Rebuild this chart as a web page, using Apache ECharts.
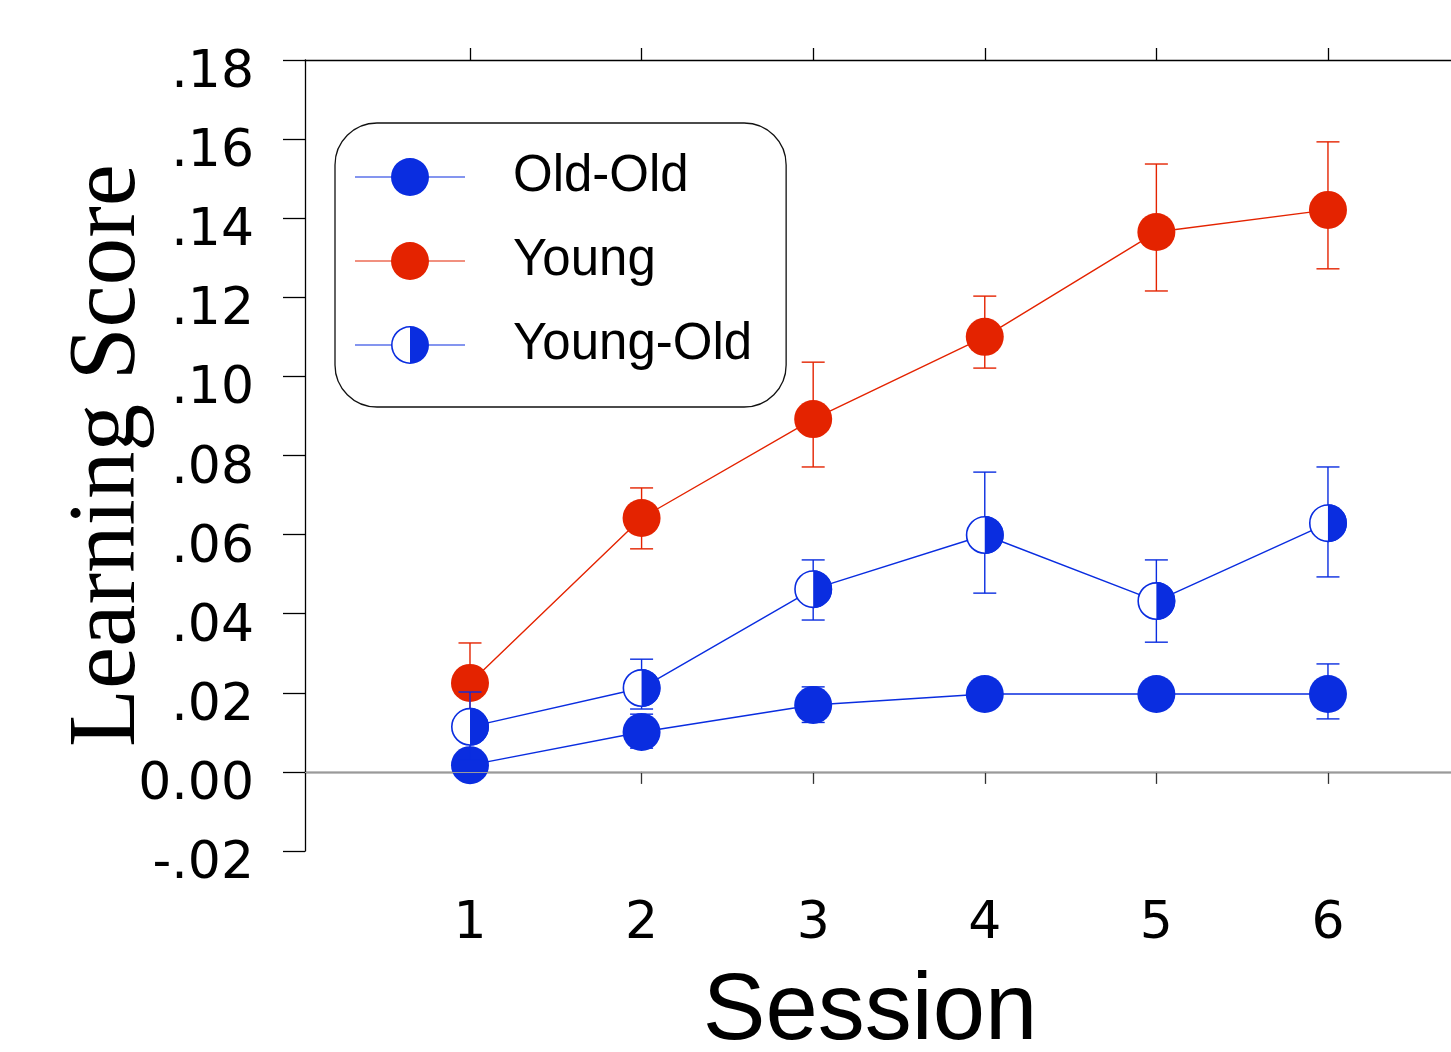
<!DOCTYPE html>
<html><head><meta charset="utf-8">
<script src="https://cdn.jsdelivr.net/npm/echarts@6/dist/echarts.min.js"></script>
<style>html,body{margin:0;padding:0;background:#fff;overflow:hidden}#c{width:1451px;height:1052px}</style>
</head><body><div id="c"></div>
<script>
// ---- data ----
const sessions = [1, 2, 3, 4, 5, 6];
const oldOld      = [0.0017, 0.0101, 0.0169, 0.0197, 0.0197, 0.0197];
const oldOldHigh  = [0.0045, 0.0146, 0.0215, 0.0225, 0.0225, 0.0273];
const oldOldLow   = [-0.0010, 0.0060, 0.0125, 0.0170, 0.0170, 0.0134];
const young       = [0.0225, 0.0642, 0.0892, 0.1100, 0.1365, 0.1421];
const youngHigh   = [0.0326, 0.0718, 0.1036, 0.1203, 0.1537, 0.1593];
const youngLow    = [0.0125, 0.0564, 0.0771, 0.1021, 0.1216, 0.1272];
const youngOld    = [0.0114, 0.0212, 0.0462, 0.0599, 0.0432, 0.0629];
const youngOldHigh= [0.0202, 0.0285, 0.0536, 0.0758, 0.0536, 0.0771];
const youngOldLow = [0.0030, 0.0159, 0.0384, 0.0452, 0.0328, 0.0493];
const yTickLabels = ['-.02', '0.00', '.02', '.04', '.06', '.08', '.10', '.12', '.14', '.16', '.18'];
const seriesNames = ['Old-Old', 'Young', 'Young-Old'];

const BLUE = '#0a2de0';
const RED = '#e42300';
const X_MIN = 0.0385, X_MAX = 6.717;

const iconFull = 'path://M0,18.4L36.5,18.4L36.5,19.6L0,19.6Z M73.5,18.4L110,18.4L110,19.6L73.5,19.6Z M55,0A19,19 0 1 1 55,38A19,19 0 1 1 55,0Z';
const iconHalf = 'path://M0,18.4L36.5,18.4L36.5,19.6L0,19.6Z M73.5,18.4L110,18.4L110,19.6L73.5,19.6Z M55,0A19,19 0 1 1 55,38A19,19 0 1 1 55,0Z M55,1.6A17.4,17.4 0 0 0 55,36.4Z';

function errData(hi, lo) { return sessions.map((s, i) => [s, hi[i], lo[i]]); }
function errRender(color) {
  return function (params, api) {
    const x = api.value(0);
    const top = api.coord([x, api.value(1)]);
    const bot = api.coord([x, api.value(2)]);
    const hw = 11.5;
    const st = { stroke: color, lineWidth: 1.4 };
    return { type: 'group', children: [
      { type: 'line', shape: { x1: top[0], y1: top[1], x2: bot[0], y2: bot[1] }, style: st },
      { type: 'line', shape: { x1: top[0] - hw, y1: top[1], x2: top[0] + hw, y2: top[1] }, style: st },
      { type: 'line', shape: { x1: bot[0] - hw, y1: bot[1], x2: bot[0] + hw, y2: bot[1] }, style: st }
    ]};
  };
}
function pts(v) { return sessions.map((s, i) => [s, v[i]]); }

const chart = echarts.init(document.getElementById('c'), null, { renderer: 'canvas', width: 1451, height: 1052 });
const axisLineStyle = { color: '#000', width: 1.3 };
chart.setOption({
  animation: false,
  backgroundColor: '#fff',
  grid: { left: 305, width: 1146, top: 60, height: 791, containLabel: false, outerBoundsMode: 'none' },
  legend: {
    orient: 'vertical', left: 335, top: 123,
    padding: [26, 34, 34, 20], itemGap: 28,
    itemWidth: 110, itemHeight: 38,
    backgroundColor: '#fff', borderColor: '#111', borderWidth: 1.3, borderRadius: 42,
    selectedMode: false,
    itemStyle: { borderWidth: 0 },
    formatter: n => '{g|}{n|' + n + '}',
    textStyle: {
      fontFamily: 'Liberation Sans', fontSize: 51, color: '#000', lineHeight: 56,
      rich: {
        g: { width: 43, height: 56, lineHeight: 56 },
        n: { fontFamily: 'Liberation Sans', fontSize: 51, color: '#000', lineHeight: 56 }
      }
    },
    data: [
      { name: seriesNames[0], icon: iconFull },
      { name: seriesNames[1], icon: iconFull },
      { name: seriesNames[2], icon: iconHalf }
    ]
  },
  xAxis: [{
    type: 'value', min: X_MIN, max: X_MAX, position: 'bottom',
    axisLine: { show: true, lineStyle: axisLineStyle },
    axisTick: { show: true, customValues: sessions, length: 12, lineStyle: { color: '#333', width: 1.3 } },
    axisLabel: { customValues: sessions, margin: 47, fontSize: 52, fontFamily: 'DejaVu Sans', color: '#000' },
    splitLine: { show: false },
    name: 'Session', nameLocation: 'middle', nameGap: 115, nameMoveOverlap: false,
    nameTextStyle: { fontSize: 94, fontFamily: 'Liberation Sans', color: '#000', padding: [0, 16, 0, 0] }
  }, {
    type: 'value', min: X_MIN, max: X_MAX, position: 'top',
    axisLine: { show: true, lineStyle: axisLineStyle },
    axisTick: { show: true, customValues: sessions, length: 12, lineStyle: { color: '#000', width: 1.3 } },
    axisLabel: { show: false },
    splitLine: { show: false }
  }],
  yAxis: {
    type: 'value', min: -0.02, max: 0.18, interval: 0.02,
    axisLine: { show: true, lineStyle: axisLineStyle },
    axisTick: { show: true, length: 22, lineStyle: { color: '#000', width: 1.3 } },
    axisLabel: {
      margin: 51, fontSize: 52, fontFamily: 'DejaVu Sans', color: '#000',
      verticalAlign: 'top', lineHeight: 27,
      formatter: v => yTickLabels[Math.round((v + 0.02) / 0.02)]
    },
    splitLine: { show: false },
    name: 'Learning Score', nameLocation: 'middle', nameRotate: 90, nameGap: 148, nameMoveOverlap: false,
    nameTextStyle: { fontSize: 95, fontFamily: 'Liberation Serif', color: '#000' }
  },
  series: [
    {
      type: 'custom', name: 'Old-Old err', z: 2, silent: true,
      data: errData(oldOldHigh, oldOldLow), encode: { x: 0, y: [1, 2] },
      renderItem: errRender(BLUE),
      markLine: {
        silent: true, symbol: ['none', 'none'], label: { show: false },
        lineStyle: { color: '#9a9a9a', width: 1.2, type: 'solid' },
        data: [{ yAxis: 0 }]
      }
    },
    {
      type: 'line', name: seriesNames[0], z: 3, data: pts(oldOld),
      symbol: 'circle', symbolSize: 38, showSymbol: true,
      itemStyle: { color: BLUE, borderWidth: 0 },
      lineStyle: { color: BLUE, width: 1.4 }, emphasis: { disabled: true }
    },
    {
      type: 'custom', name: 'Young err', z: 4, silent: true,
      data: errData(youngHigh, youngLow), encode: { x: 0, y: [1, 2] },
      renderItem: errRender(RED)
    },
    {
      type: 'line', name: seriesNames[1], z: 5, data: pts(young),
      symbol: 'circle', symbolSize: 38, showSymbol: true,
      itemStyle: { color: RED, borderWidth: 0 },
      lineStyle: { color: RED, width: 1.4 }, emphasis: { disabled: true }
    },
    {
      type: 'line', name: seriesNames[2], z: 6, data: pts(youngOld),
      symbol: 'none', itemStyle: { color: BLUE, borderWidth: 0 },
      lineStyle: { color: BLUE, width: 1.4 }, emphasis: { disabled: true }
    },
    {
      type: 'custom', name: 'Young-Old err', z: 7, silent: true,
      data: errData(youngOldHigh, youngOldLow), encode: { x: 0, y: [1, 2] },
      renderItem: errRender(BLUE)
    },
    {
      type: 'custom', name: 'Young-Old markers', z: 8, silent: true,
      data: pts(youngOld), encode: { x: 0, y: 1 },
      renderItem: function (params, api) {
        const p = api.coord([api.value(0), api.value(1)]);
        const r = 18.2;
        return { type: 'group', children: [
          { type: 'circle', shape: { cx: p[0], cy: p[1], r: r }, style: { fill: '#fff', stroke: BLUE, lineWidth: 1.6 } },
          { type: 'sector', shape: { cx: p[0], cy: p[1], r0: 0, r: r + 0.8, startAngle: -Math.PI / 2, endAngle: Math.PI / 2, clockwise: true }, style: { fill: BLUE } }
        ]};
      }
    }
  ]
});
</script>
</body></html>
